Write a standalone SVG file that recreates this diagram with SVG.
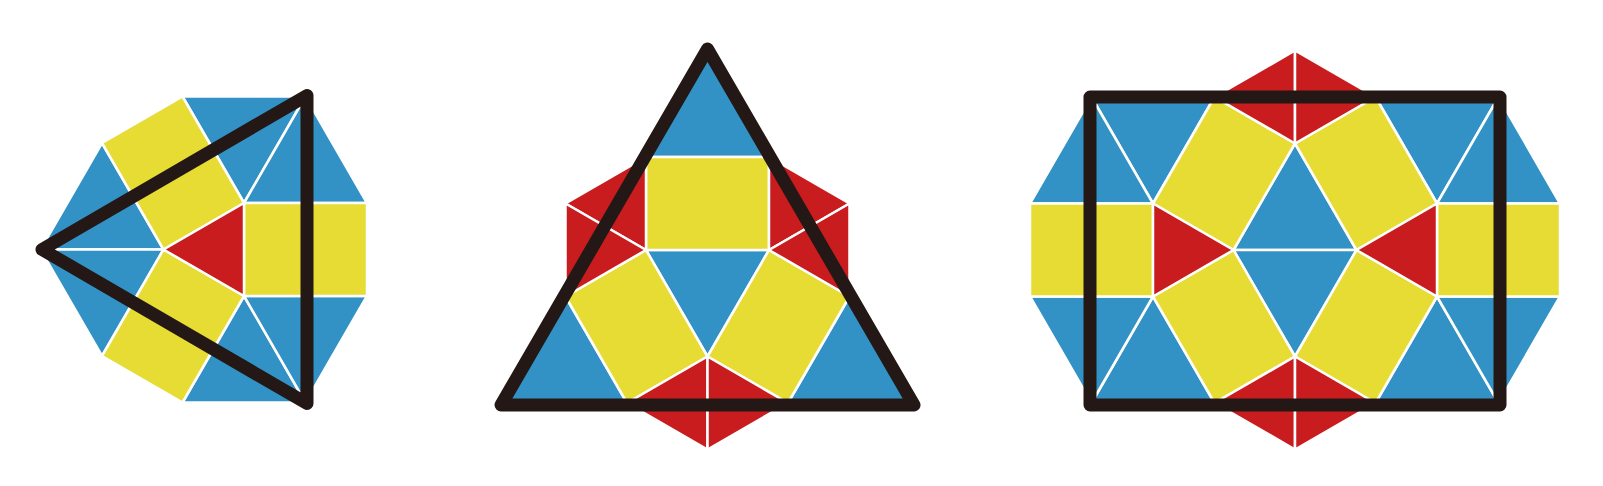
<svg xmlns="http://www.w3.org/2000/svg" width="1603" height="486" viewBox="0 0 1603 486">
<style>
.b{fill:#3392C5;stroke:#fff;stroke-width:2.5;stroke-linejoin:round}
.y{fill:#E7DC33;stroke:#fff;stroke-width:2.5;stroke-linejoin:round}
.r{fill:#C91C1E;stroke:#fff;stroke-width:2.5;stroke-linejoin:round}
.k{fill:none;stroke:#231815;stroke-width:13;stroke-linejoin:round;stroke-linecap:round}
</style>
<rect width="1603" height="486" fill="#fff"/>
<g id="panel1">
<polygon class="b" points="102,143 163.5,249.5 40.5,249.5"/>
<polygon class="b" points="102,356 163.5,249.5 40.5,249.5"/>
<polygon class="b" points="182.5,96.5 305.5,96.5 244,203"/>
<polygon class="b" points="305.5,96.5 367,203 244,203"/>
<polygon class="b" points="182.5,402.5 305.5,402.5 244,296"/>
<polygon class="b" points="305.5,402.5 367,296 244,296"/>
<polygon class="y" points="163.5,249.5 244,203 182.5,96.5 102,143"/>
<polygon class="y" points="163.5,249.5 244,296 182.5,402.5 102,356"/>
<polygon class="y" points="244,203 367,203 367,296 244,296"/>
<polygon class="r" points="244,203 244,296 163.5,249.5"/>
<polygon class="k" points="42,249.5 307,95.5 307,403.5"/>
</g>
<g id="panel2">
<polygon class="b" points="646,250 769,250 707.5,356.5"/>
<polygon class="b" points="646,157 769,157 707.5,50.5"/>
<polygon class="b" points="565.5,296.5 627,403 503.5,403"/>
<polygon class="b" points="849.5,296.5 788,403 911.5,403"/>
<polygon class="y" points="646,157 769,157 769,250 646,250"/>
<polygon class="y" points="646,250 707.5,356.5 627,403 565.5,296.5"/>
<polygon class="y" points="769,250 707.5,356.5 788,403 849.5,296.5"/>
<polygon class="r" points="646,157 646,250 565.5,203.5"/>
<polygon class="r" points="565.5,203.5 646,250 565.5,296.5"/>
<polygon class="r" points="769,157 769,250 849.5,203.5"/>
<polygon class="r" points="849.5,203.5 769,250 849.5,296.5"/>
<polygon class="r" points="707.5,356.5 627,403 707.5,449.5"/>
<polygon class="r" points="707.5,356.5 788,403 707.5,449.5"/>
<polygon class="k" points="501,405 707.5,49 914,405"/>
</g>
<g id="panel3">
<polygon class="b" points="1233.5,250 1356.5,250 1295,143.5"/>
<polygon class="b" points="1233.5,250 1356.5,250 1295,356.5"/>
<polygon class="b" points="1091.5,97 1153,203.5 1214.5,97"/>
<polygon class="b" points="1030,203.5 1153,203.5 1091.5,97"/>
<polygon class="b" points="1498.5,97 1437,203.5 1375.5,97"/>
<polygon class="b" points="1560,203.5 1437,203.5 1498.5,97"/>
<polygon class="b" points="1091.5,403 1153,296.5 1214.5,403"/>
<polygon class="b" points="1030,296.5 1153,296.5 1091.5,403"/>
<polygon class="b" points="1498.5,403 1437,296.5 1375.5,403"/>
<polygon class="b" points="1560,296.5 1437,296.5 1498.5,403"/>
<polygon class="y" points="1030,203.5 1153,203.5 1153,296.5 1030,296.5"/>
<polygon class="y" points="1437,203.5 1560,203.5 1560,296.5 1437,296.5"/>
<polygon class="y" points="1233.5,250 1295,143.5 1214.5,97 1153,203.5"/>
<polygon class="y" points="1356.5,250 1295,143.5 1375.5,97 1437,203.5"/>
<polygon class="y" points="1233.5,250 1295,356.5 1214.5,403 1153,296.5"/>
<polygon class="y" points="1356.5,250 1295,356.5 1375.5,403 1437,296.5"/>
<polygon class="r" points="1153,203.5 1153,296.5 1233.5,250"/>
<polygon class="r" points="1437,203.5 1437,296.5 1356.5,250"/>
<polygon class="r" points="1214.5,97 1295,143.5 1295,50.5"/>
<polygon class="r" points="1375.5,97 1295,143.5 1295,50.5"/>
<polygon class="r" points="1214.5,403 1295,356.5 1295,449.5"/>
<polygon class="r" points="1375.5,403 1295,356.5 1295,449.5"/>
<rect class="k" x="1090" y="97" width="410" height="308"/>
</g>
</svg>
